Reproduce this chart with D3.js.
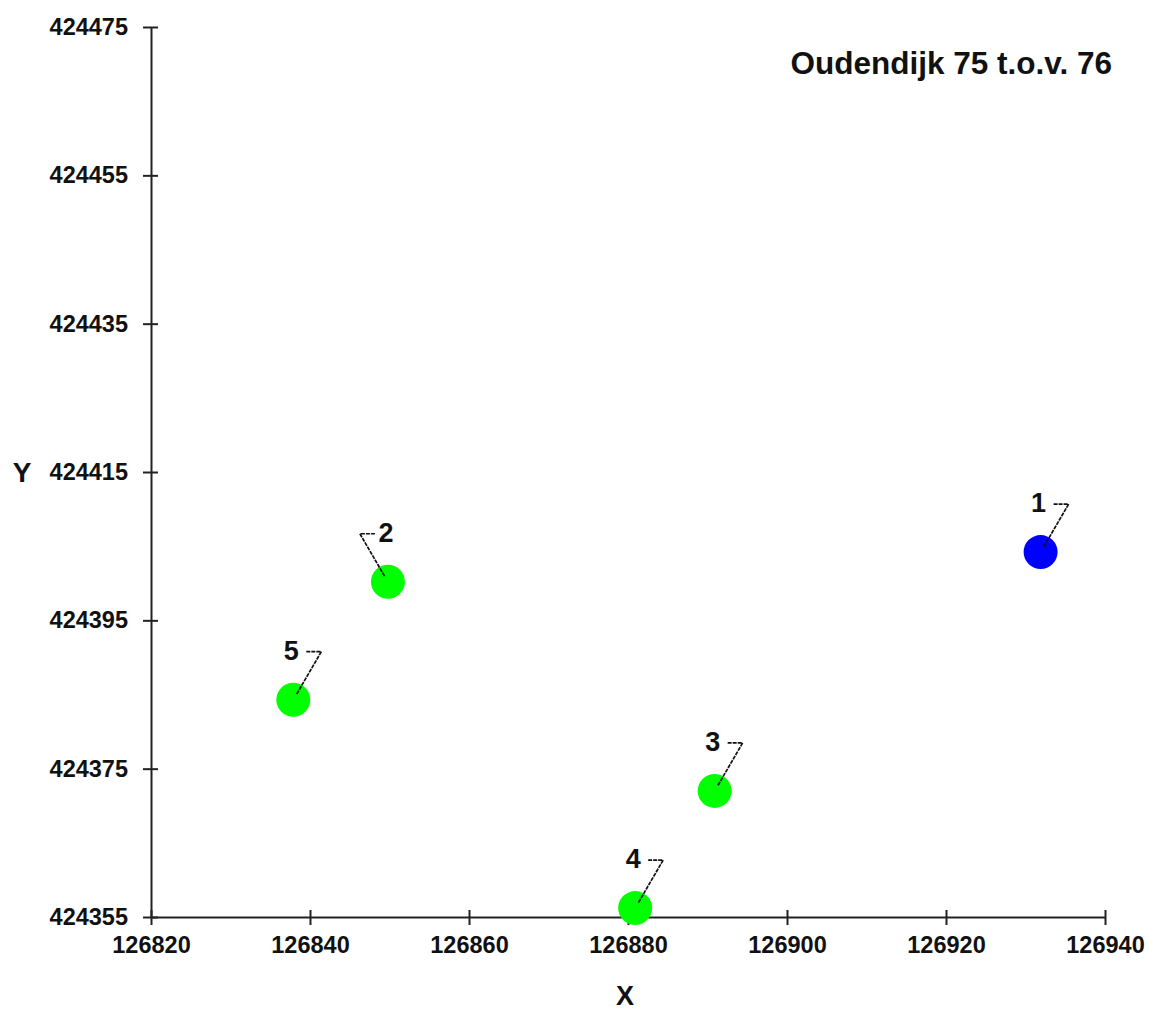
<!DOCTYPE html>
<html>
<head>
<meta charset="utf-8">
<script src="https://cdn.jsdelivr.net/npm/d3@7"></script>
<style>
  body { margin: 0; background: #fff; }
  svg { display: block; font-family: Arial, "Liberation Sans", sans-serif; font-weight: bold; }
</style>
</head>
<body>
<div class="chart"></div>
<script>
// point data
let pointIds = ['1', '2', '3', '4', '5'];
let xValues = [126931.9, 126849.8, 126890.9, 126880.9, 126837.9];
let yValues = [424404.2, 424400.2, 424372.0, 424356.2, 424384.3];
let pointColors = ['#0000ff', '#00ff00', '#00ff00', '#00ff00', '#00ff00'];
let labelSide = [1, -1, 1, 1, 1];  // leader goes up-right (1) or up-left (-1)
let xTicks = [126820, 126840, 126860, 126880, 126900, 126920, 126940];
let yTicks = [424355, 424375, 424395, 424415, 424435, 424455, 424475];
let title = 'Oudendijk 75 t.o.v. 76';

let w = 1149, h = 1010;
let padLeft = 151, padRight = 1105, padTop = 27, padBottom = 917;

let svg = d3.select('.chart').append('svg').attr('width', w).attr('height', h);

let data = pointIds.map(function (id, i) {
    return { id: id, x: xValues[i], y: yValues[i], color: pointColors[i], side: labelSide[i] };
});

/* ==== SCALES ===== */

let xScale = d3.scaleLinear().domain([126820, 126940]).range([padLeft, padRight]);
let yScale = d3.scaleLinear().domain([424355, 424475]).range([padBottom, padTop]);

/* ==== AXES ===== */

let xAxis = d3.axisBottom(xScale).tickValues(xTicks).tickFormat(d3.format('d'))
    .tickSizeInner(8).tickSizeOuter(0).tickPadding(11);
let yAxis = d3.axisLeft(yScale).tickValues(yTicks).tickFormat(d3.format('d'))
    .tickSizeInner(8).tickSizeOuter(0).tickPadding(15);

let gx = svg.append('g')
    .attr('transform', 'translate(0,' + padBottom + ')')
    .call(xAxis);
let gy = svg.append('g')
    .attr('transform', 'translate(' + padLeft + ',0)')
    .call(yAxis);

[gx, gy].forEach(function (g) {
    g.selectAll('path').attr('stroke', '#222').attr('stroke-width', 2);
    g.selectAll('line').attr('stroke', '#222').attr('stroke-width', 2);
    g.selectAll('text').attr('fill', '#111').style('font-size', '23.5px')
        .style('font-family', 'Arial, "Liberation Sans", sans-serif').style('font-weight', 'bold');
});
// ticks cross the axis line
gx.selectAll('.tick line').attr('y1', -7).attr('y2', 8);
gy.selectAll('.tick line').attr('x1', 7).attr('x2', -8);
gx.selectAll('.tick text').attr('dy', '0.71em');

svg.append('text')
    .text('X')
    .attr('x', 625).attr('y', 1005)
    .attr('text-anchor', 'middle')
    .attr('font-size', 27).attr('fill', '#111');

svg.append('text')
    .text('Y')
    .attr('x', 22).attr('y', yScale(424415))
    .attr('dy', '0.36em')
    .attr('text-anchor', 'middle')
    .attr('font-size', 28).attr('fill', '#111');

svg.append('text')
    .text(title)
    .attr('x', 1112).attr('y', 74)
    .attr('text-anchor', 'end')
    .attr('font-size', 31.5).attr('fill', '#111');

/* ==== POINTS ===== */

svg.selectAll('circle.pt')
    .data(data)
    .enter().append('circle')
    .attr('class', 'pt')
    .attr('cx', function (d) { return xScale(d.x); })
    .attr('cy', function (d) { return yScale(d.y); })
    .attr('r', 17)
    .attr('fill', function (d) { return d.color; });

/* ==== LEADERS + LABELS ===== */

svg.selectAll('polyline.leader')
    .data(data)
    .enter().append('polyline')
    .attr('class', 'leader')
    .attr('points', function (d) {
        let cx = xScale(d.x), cy = yScale(d.y);
        return [[cx + d.side * 13, cy - 48], [cx + d.side * 28, cy - 48], [cx + d.side * 3, cy - 5]]
            .map(function (p) { return p.join(','); }).join(' ');
    })
    .attr('fill', 'none')
    .attr('stroke', '#111')
    .attr('stroke-width', 1.7)
    .attr('stroke-dasharray', '4,1');

svg.selectAll('text.lbl')
    .data(data)
    .enter().append('text')
    .attr('class', 'lbl')
    .text(function (d) { return d.id; })
    .attr('x', function (d) { return xScale(d.x) - 2; })
    .attr('y', function (d) { return yScale(d.y) - 40; })
    .attr('text-anchor', 'middle')
    .attr('font-size', 27)
    .attr('fill', '#111');
</script>
</body>
</html>
